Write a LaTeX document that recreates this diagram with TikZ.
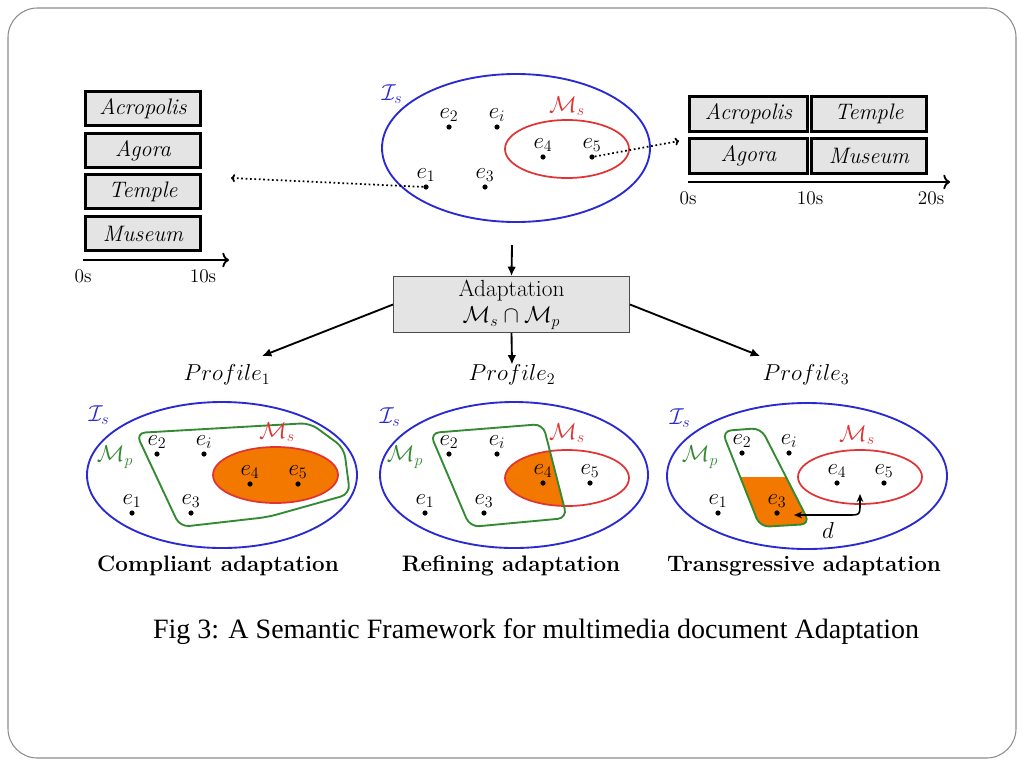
\documentclass[tikz,border=0pt]{standalone}
\usepackage{fontspec}
\newfontfamily\capfont{Liberation Serif}
\usetikzlibrary{arrows.meta,calc}
\definecolor{isblue}{HTML}{2A2AD2}
\definecolor{msred}{HTML}{E03434}
\definecolor{mpgreen}{HTML}{338A33}
\definecolor{orfill}{HTML}{F27800}
\definecolor{boxgray}{HTML}{E4E4E4}
\newcommand\mkpt[4]{%
  \node[edot] (#1) at (#2,#3) {};
  \node[elab] (#1l) at ($(#1)+(0,-9)$) {$#4$};}
\begin{document}
\begin{tikzpicture}[x=0.75pt,y=-0.75pt,
  edot/.style={circle,fill=black,inner sep=0pt,minimum size=3.9pt},
  elab/.style={anchor=base,inner sep=0pt,font=\fontsize{17}{19}\selectfont},
  tbox/.style={draw=black,line width=2.4pt,fill=boxgray,inner sep=0pt,font=\fontsize{16.8}{19}\selectfont\itshape},
  ticklab/.style={font=\fontsize{14.5}{16}\selectfont},
  taxis/.style={line width=1.4pt,-{Computer Modern Rightarrow[length=5pt,width=11pt]}},
  darr/.style={line width=1.3pt,dotted,-{Computer Modern Rightarrow[length=3pt,width=6pt]}},
  marr/.style={line width=1.4pt,-{Latex[length=7pt,width=6.5pt]}},
  ell/.style={isblue,line width=1.4pt},
  msell/.style={msred,line width=1.3pt},
  mppoly/.style={mpgreen,line width=1.4pt,rounded corners=7pt},
  slab/.style={inner sep=0pt,font=\fontsize{17}{19}\selectfont},
  prof/.style={inner sep=0pt,font=\fontsize{17.8}{20}\selectfont},
  captxt/.style={inner sep=0pt,font=\fontsize{16.8}{19}\selectfont\bfseries}]
\useasboundingbox (0,0) rectangle (1024,768);
\draw[black!45,line width=0.8pt,rounded corners=22pt] (8,8) rectangle (1016,758);

% ---------- left timeline ----------
\foreach \n/\t/\y in {la/Acropolis/108.5,lb/Agora/150.5,lc/Temple/191.5,ld/Museum/233.5}{
  \node[tbox,minimum width=86.5pt,minimum height=26pt] (\n) at (143,\y) {\t};}
\coordinate (lax0) at (83,260);
\coordinate (lax1) at (229,260);
\draw[taxis] (lax0) -- (lax1);
\node[ticklab] (l0s) at (83,276) {0s};
\node[ticklab] (l10s) at (203,276) {10s};

% ---------- right timeline ----------
\node[tbox,minimum width=88.5pt,minimum height=26pt] (ra) at (748.5,114) {Acropolis};
\node[tbox,minimum width=86pt,minimum height=26pt] (rb) at (869,114) {Temple};
\node[tbox,minimum width=88.5pt,minimum height=26pt] (rc) at (748.5,156) {Agora};
\node[tbox,minimum width=86pt,minimum height=26pt] (rd) at (869,156) {Museum};
\coordinate (rax0) at (688,182);
\coordinate (rax1) at (950,182);
\draw[taxis] (rax0) -- (rax1);
\node[ticklab] (r0s) at (688,198) {0s};
\node[ticklab] (r10s) at (810,198) {10s};
\node[ticklab] (r20s) at (931,198) {20s};

% ---------- top sets ----------
\draw[ell] (516,148) ellipse [x radius=134,y radius=74];
\draw[msell] (567,149) ellipse [x radius=62,y radius=29];
\node[slab,text=isblue] (tis) at (392,94) {$\mathcal{I}_s$};
\node[slab,text=msred] (tms) at (567,106) {$\mathcal{M}_s$};
\mkpt{te2}{449}{127}{e_2}
\mkpt{tei}{497}{127}{e_i}
\mkpt{te4}{543}{157}{e_4}
\mkpt{te5}{592}{157}{e_5}
\mkpt{te1}{426}{187}{e_1}
\mkpt{te3}{485}{187}{e_3}
\coordinate (lend) at (231,178);
\coordinate (rend) at (679,141);
\draw[darr] (te1) -- (lend);
\draw[darr] (te5) -- (rend);

% ---------- adaptation ----------
\coordinate (tbot) at (512,245);
\node[draw=black!70,line width=0.7pt,fill=boxgray,minimum width=177pt,minimum height=42pt,inner sep=0pt,align=center,font=\fontsize{17.5}{20}\selectfont] (adapt) at (511.5,304.5) {Adaptation\\$\mathcal{M}_s\cap\mathcal{M}_p$};
\draw[marr] (tbot) -- (adapt.north);
\node[prof] (p1) at (227,375) {$Profile_1$};
\node[prof] (p2) at (512,375) {$Profile_2$};
\node[prof] (p3) at (806,375) {$Profile_3$};
\coordinate (p1e) at (262,356);
\coordinate (p3e) at (760,356);
\draw[marr] (adapt.west) -- (p1e);
\draw[marr] (adapt.south) -- (p2.north);
\draw[marr] (adapt.east) -- (p3e);

% ---------- compliant ----------
\draw[ell] (222,475) ellipse [x radius=135,y radius=73];
\draw[mppoly] (136,433) -- (310,423) -- (344,448) -- (350,494) -- (268,517) -- (180,527) -- cycle;
\draw[msell,fill=orfill] (275.5,475) ellipse [x radius=62.5,y radius=28];
\node[slab,text=isblue] (a1is) at (99,415) {$\mathcal{I}_s$};
\node[slab,text=mpgreen] (a1mp) at (115,457) {$\mathcal{M}_p$};
\node[slab,text=msred] (a1ms) at (277,432) {$\mathcal{M}_s$};
\mkpt{ae2}{157}{454}{e_2}
\mkpt{aei}{204}{454}{e_i}
\mkpt{ae4}{250}{484}{e_4}
\mkpt{ae5}{298}{484}{e_5}
\mkpt{ae1}{132}{513}{e_1}
\mkpt{ae3}{191}{513}{e_3}
\node[captxt] (c1) at (218,566) {Compliant adaptation};

% ---------- refining ----------
\draw[ell] (514,475) ellipse [x radius=134,y radius=73];
\begin{scope}
  \clip[rounded corners=7pt] (430,433) -- (543,424) -- (567,518) -- (470,527) -- cycle;
  \fill[orfill] (567,478) ellipse [x radius=62,y radius=28];
\end{scope}
\draw[msell] (567,478) ellipse [x radius=62,y radius=28];
\draw[mppoly] (430,433) -- (543,424) -- (567,518) -- (470,527) -- cycle;
\node[slab,text=isblue] (a2is) at (390,417) {$\mathcal{I}_s$};
\node[slab,text=mpgreen] (a2mp) at (405,457) {$\mathcal{M}_p$};
\node[slab,text=msred] (a2ms) at (567,433) {$\mathcal{M}_s$};
\mkpt{be2}{449}{454}{e_2}
\mkpt{bei}{497}{454}{e_i}
\mkpt{be4}{543}{483}{e_4}
\mkpt{be5}{590}{483}{e_5}
\mkpt{be1}{425}{513}{e_1}
\mkpt{be3}{484}{513}{e_3}
\node[captxt] (c2) at (511,566) {Refining adaptation};

% ---------- transgressive ----------
\draw[ell] (807,476) ellipse [x radius=140,y radius=73];
\begin{scope}
  \clip[rounded corners=7pt] (722,431) -- (761,428) -- (810,524) -- (760,527) -- cycle;
  \fill[orfill] (700,477) rectangle (830,540);
\end{scope}
\draw[mppoly] (722,431) -- (761,428) -- (810,524) -- (760,527) -- cycle;
\draw[msell] (860,477) ellipse [x radius=62,y radius=27];
\node[slab,text=isblue] (a3is) at (680,418) {$\mathcal{I}_s$};
\node[slab,text=mpgreen] (a3mp) at (700,457) {$\mathcal{M}_p$};
\node[slab,text=msred] (a3ms) at (857,435) {$\mathcal{M}_s$};
\mkpt{ce2}{742}{453}{e_2}
\mkpt{cei}{789}{453}{e_i}
\mkpt{ce4}{837}{483}{e_4}
\mkpt{ce5}{884}{483}{e_5}
\mkpt{ce1}{718}{513}{e_1}
\mkpt{ce3}{777}{513}{e_3}
\coordinate (dtop) at (860,494);
\coordinate (dleft) at (794,515);
\draw[line width=1.2pt,{Stealth[length=6pt,width=5pt]}-{Stealth[length=6pt,width=5pt]}] (dtop) -- (860,503) .. controls (860,515) .. (848,515) -- (dleft);
\node[slab] (dl) at (828,530) {$d$};
\node[captxt] (c3) at (804,566) {Transgressive adaptation};

% ---------- figure caption ----------
\node[inner sep=0pt,font=\capfont\fontsize{21}{24}\selectfont] (fig) at (536,632) {Fig 3: A Semantic Framework for multimedia document Adaptation};
\end{tikzpicture}
\end{document}
